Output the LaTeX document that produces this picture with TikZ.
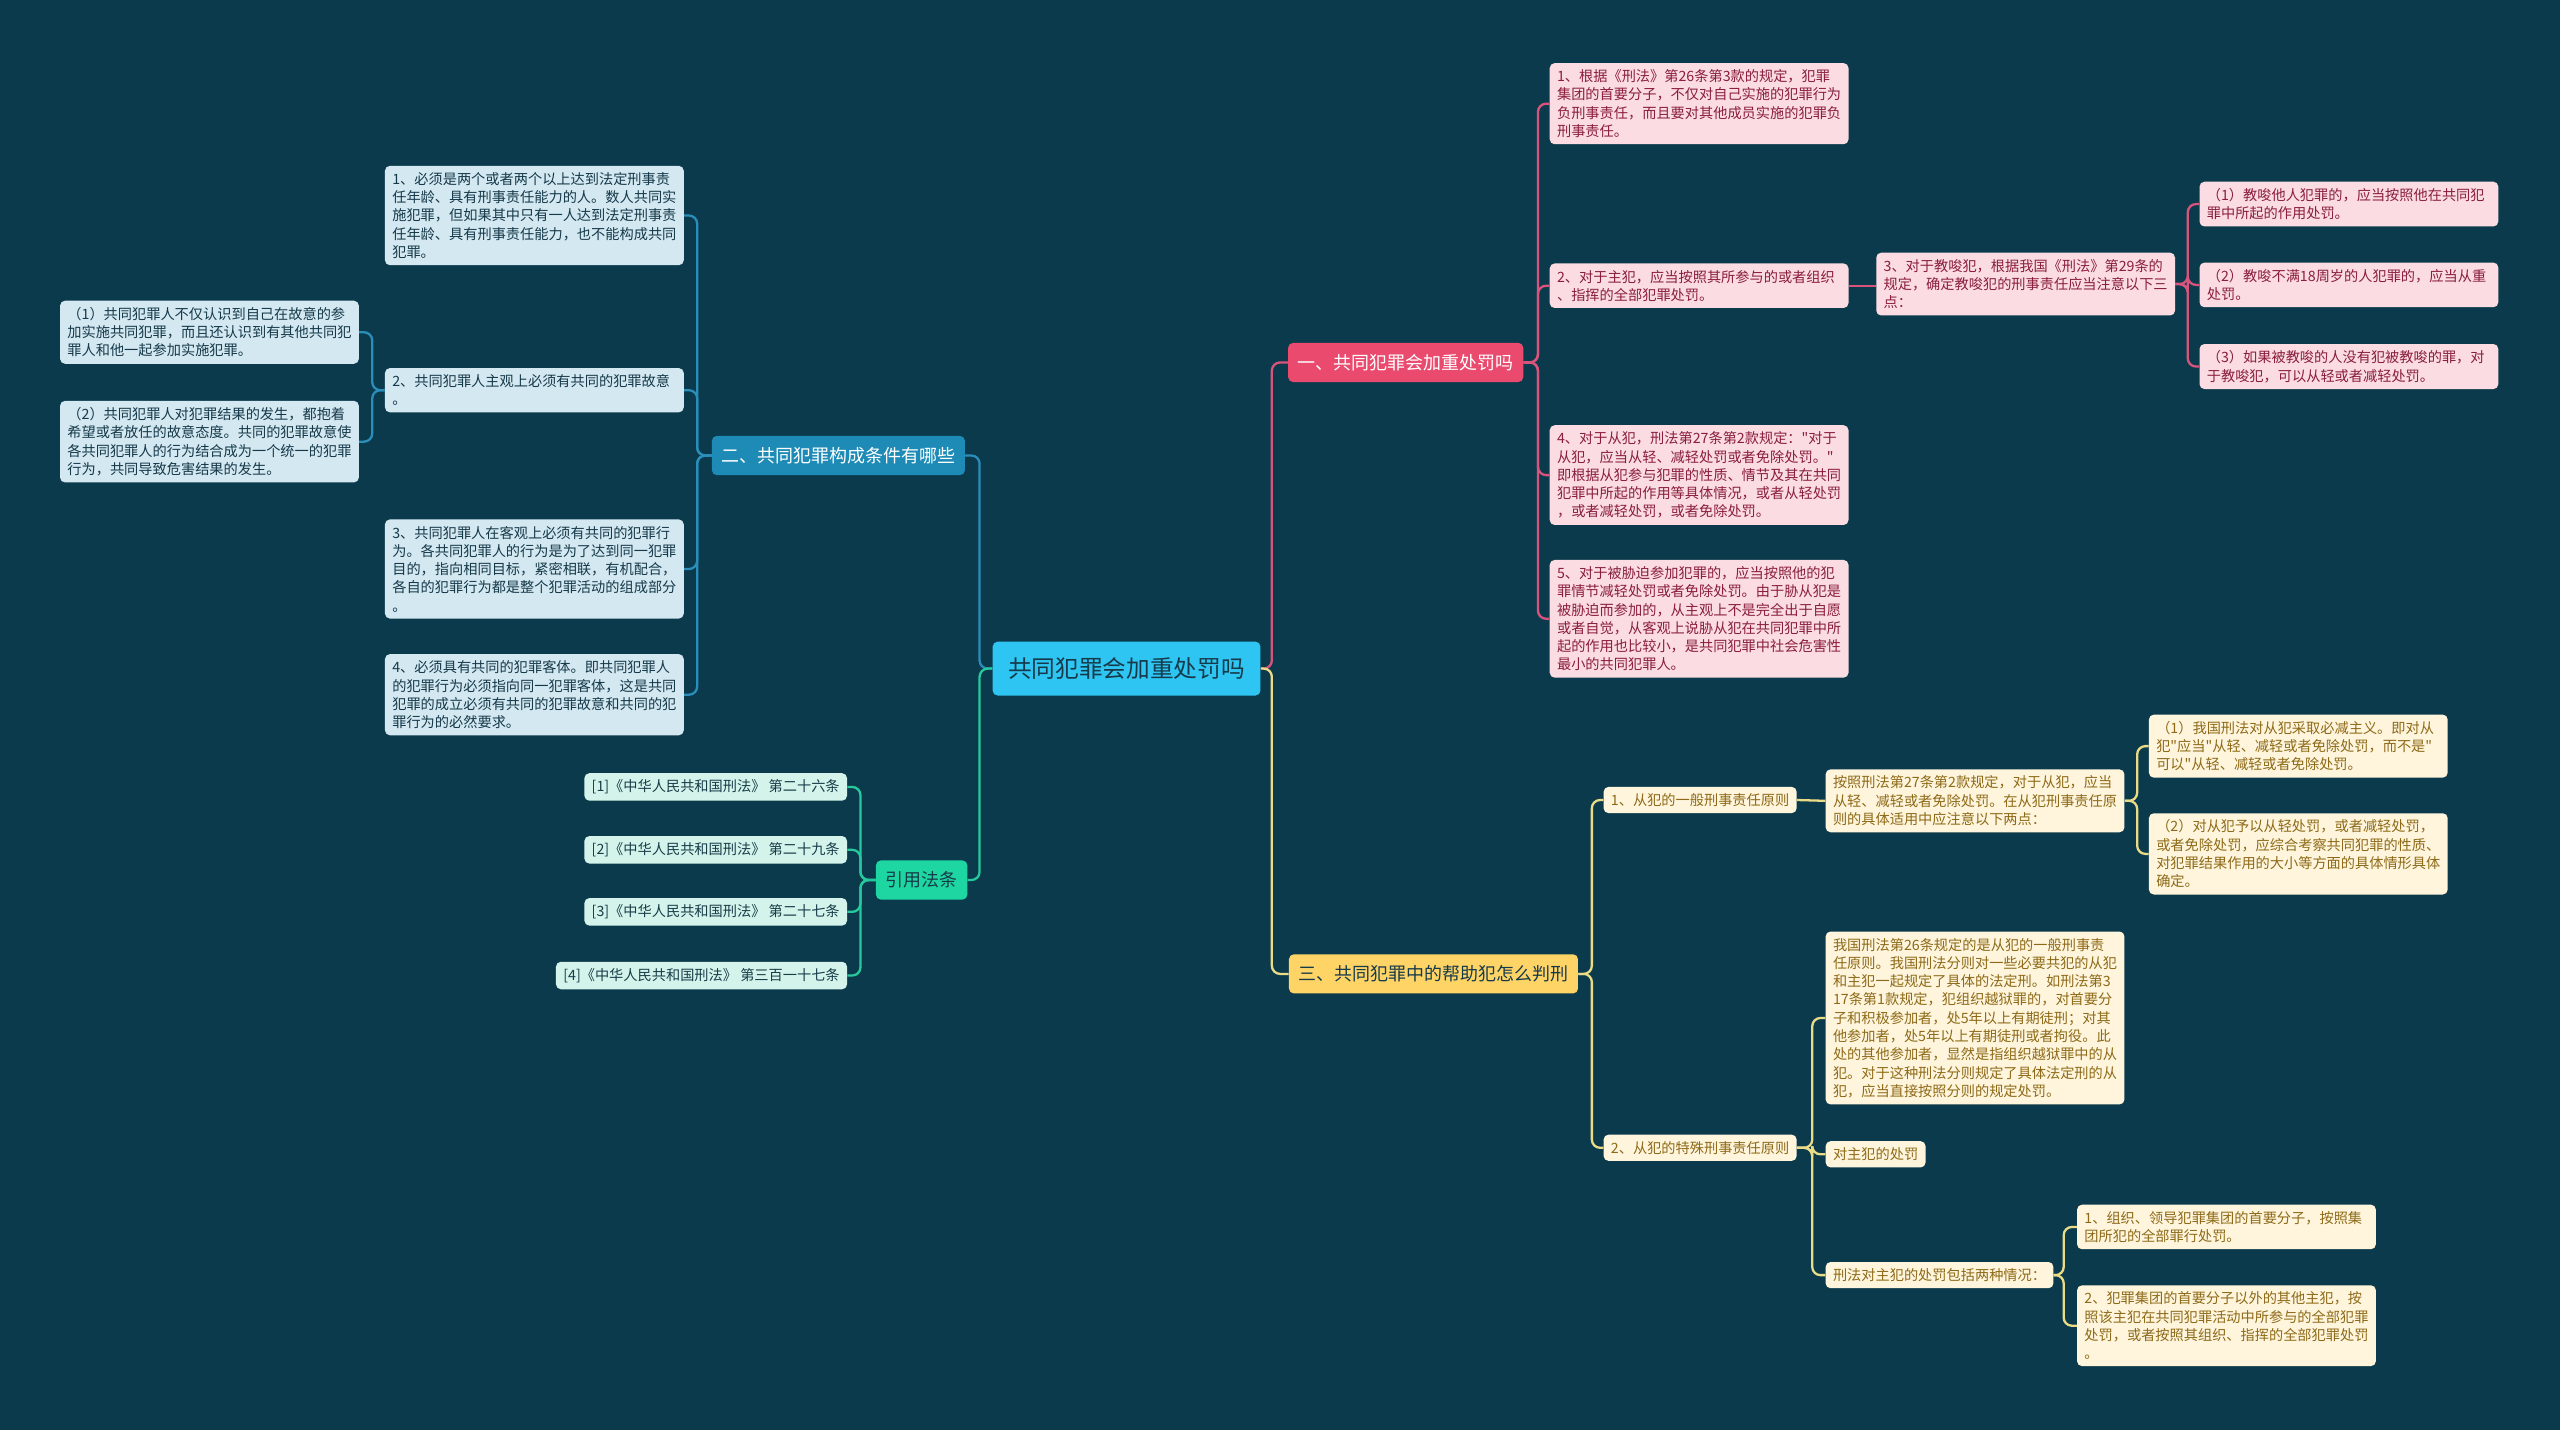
\documentclass[tikz,border=0pt]{standalone}
\usepackage{fontspec}
\newfontfamily\cjk{Noto Sans CJK SC}
\usepackage{tikz}
\usetikzlibrary{calc}

\definecolor{bgteal}{HTML}{0B3A4C}
\definecolor{rootfill}{HTML}{2EC5F2}
\definecolor{roottext}{HTML}{163A4A}
\definecolor{redfill}{HTML}{EA4A6E}
\definecolor{redline}{HTML}{D9547C}
\definecolor{pinkfill}{HTML}{FBDCE2}
\definecolor{pinktext}{HTML}{8A1E3C}
\definecolor{bluefill}{HTML}{1D8BB6}
\definecolor{blueline}{HTML}{2A8DBA}
\definecolor{icefill}{HTML}{D3E8F0}
\definecolor{icetext}{HTML}{16394A}
\definecolor{greenfill}{HTML}{1ED6A2}
\definecolor{greenline}{HTML}{26C99C}
\definecolor{mintfill}{HTML}{D4F4EB}
\definecolor{minttext}{HTML}{173C48}
\definecolor{goldfill}{HTML}{FFD466}
\definecolor{goldline}{HTML}{EADB86}
\definecolor{creamfill}{HTML}{FEF5DC}
\definecolor{creamtext}{HTML}{8E6A18}

\begin{document}
\begin{tikzpicture}[
    x=1pt, y=-1pt,
    box/.style={rectangle, rounded corners=3pt, inner xsep=4.5pt, inner ysep=4pt,
                align=left, font=\cjk\fontsize{8.7}{11.2}\selectfont},
    wide/.style={box, text width=174pt},
    rootnode/.style={rectangle, rounded corners=3pt, fill=rootfill, text=roottext,
                     minimum width=164pt, minimum height=33pt,
                     font=\cjk\fontsize{14.5}{16}\selectfont},
    topic/.style={rectangle, rounded corners=3pt, inner xsep=6pt,
                  minimum height=24pt, font=\cjk\fontsize{11}{13}\selectfont},
    pinkbox/.style={fill=pinkfill, text=pinktext},
    icebox/.style={fill=icefill, text=icetext},
    mintbox/.style={fill=mintfill, text=minttext},
    creambox/.style={fill=creamfill, text=creamtext},
    link/.style={line width=1.4pt, rounded corners=5pt},
    redlink/.style={link, redline},
    bluelink/.style={link, blueline},
    greenlink/.style={link, greenline},
    goldlink/.style={link, goldline}
]
\fill[bgteal] (0,0) rectangle (1568,876);
\useasboundingbox (0,0) rectangle (1568,876);

% Centre and main topics
\node[rootnode] (root) at (690,409.5) {共同犯罪会加重处罚吗};
\node[topic, fill=redfill, text=white] (t1) at (861,222) {一、共同犯罪会加重处罚吗};
\node[topic, fill=bluefill, text=white] (t2) at (513.5,279) {二、共同犯罪构成条件有哪些};
\node[topic, fill=goldfill, text=roottext] (t3) at (878,596.5) {三、共同犯罪中的帮助犯怎么判刑};
\node[topic, fill=greenfill, text=minttext] (tc) at (564.5,539) {引用法条};

% Junction columns
\coordinate (jr) at (779,0);
\coordinate (jl) at (600,0);
\coordinate (j1) at (942,0);
\coordinate (j13) at (1340,0);
\coordinate (j2) at (427,0);
\coordinate (j22) at (228,0);
\coordinate (jc) at (527,0);
\coordinate (j3) at (975,0);
\coordinate (jy1) at (1309,0);
\coordinate (jy2) at (1110,0);
\coordinate (jy2c) at (1264,0);

% Topic one
\node[wide, pinkbox, anchor=west] (r1) at (949,63.5) {1、根据《刑法》第26条第3款的规定，犯罪\\集团的首要分子，不仅对自己实施的犯罪行为\\负刑事责任，而且要对其他成员实施的犯罪负\\刑事责任。};
\node[wide, pinkbox, anchor=west] (r2) at (949,175) {2、对于主犯，应当按照其所参与的或者组织\\、指挥的全部犯罪处罚。};
\node[wide, pinkbox, anchor=west] (r3) at (1149,174) {3、对于教唆犯，根据我国《刑法》第29条的\\规定，确定教唆犯的刑事责任应当注意以下三\\点：};
\node[wide, pinkbox, anchor=west] (r3a) at (1347,125) {（1）教唆他人犯罪的，应当按照他在共同犯\\罪中所起的作用处罚。};
\node[wide, pinkbox, anchor=west] (r3b) at (1347,174.5) {（2）教唆不满18周岁的人犯罪的，应当从重\\处罚。};
\node[wide, pinkbox, anchor=west] (r3c) at (1347,224.5) {（3）如果被教唆的人没有犯被教唆的罪，对\\于教唆犯，可以从轻或者减轻处罚。};
\node[wide, pinkbox, anchor=west] (r4) at (949,291) {4、对于从犯，刑法第27条第2款规定："对于\\从犯，应当从轻、减轻处罚或者免除处罚。"\\即根据从犯参与犯罪的性质、情节及其在共同\\犯罪中所起的作用等具体情况，或者从轻处罚\\，或者减轻处罚，或者免除处罚。};
\node[wide, pinkbox, anchor=west] (r5) at (949,379) {5、对于被胁迫参加犯罪的，应当按照他的犯\\罪情节减轻处罚或者免除处罚。由于胁从犯是\\被胁迫而参加的，从主观上不是完全出于自愿\\或者自觉，从客观上说胁从犯在共同犯罪中所\\起的作用也比较小，是共同犯罪中社会危害性\\最小的共同犯罪人。};

% Topic two
\node[wide, icebox, anchor=east] (l1) at (419,132) {1、必须是两个或者两个以上达到法定刑事责\\任年龄、具有刑事责任能力的人。数人共同实\\施犯罪，但如果其中只有一人达到法定刑事责\\任年龄、具有刑事责任能力，也不能构成共同\\犯罪。};
\node[wide, icebox, anchor=east] (l2) at (419,239) {2、共同犯罪人主观上必须有共同的犯罪故意\\。};
\node[wide, icebox, anchor=east] (l2a) at (220,203.5) {（1）共同犯罪人不仅认识到自己在故意的参\\加实施共同犯罪，而且还认识到有其他共同犯\\罪人和他一起参加实施犯罪。};
\node[wide, icebox, anchor=east] (l2b) at (220,270.5) {（2）共同犯罪人对犯罪结果的发生，都抱着\\希望或者放任的故意态度。共同的犯罪故意使\\各共同犯罪人的行为结合成为一个统一的犯罪\\行为，共同导致危害结果的发生。};
\node[wide, icebox, anchor=east] (l3) at (419,348.5) {3、共同犯罪人在客观上必须有共同的犯罪行\\为。各共同犯罪人的行为是为了达到同一犯罪\\目的，指向相同目标，紧密相联，有机配合，\\各自的犯罪行为都是整个犯罪活动的组成部分\\。};
\node[wide, icebox, anchor=east] (l4) at (419,425.5) {4、必须具有共同的犯罪客体。即共同犯罪人\\的犯罪行为必须指向同一犯罪客体，这是共同\\犯罪的成立必须有共同的犯罪故意和共同的犯\\罪行为的必然要求。};

% Cited articles
\node[box, mintbox, anchor=east] (c1) at (519,482) {[1]《中华人民共和国刑法》 第二十六条};
\node[box, mintbox, anchor=east] (c2) at (519,520.5) {[2]《中华人民共和国刑法》 第二十九条};
\node[box, mintbox, anchor=east] (c3) at (519,558.5) {[3]《中华人民共和国刑法》 第二十七条};
\node[box, mintbox, anchor=east] (c4) at (519,597.5) {[4]《中华人民共和国刑法》 第三百一十七条};

% Topic three
\node[box, creambox, anchor=west] (y1) at (982,490) {1、从犯的一般刑事责任原则};
\node[wide, creambox, anchor=west] (y1x) at (1118,490.5) {按照刑法第27条第2款规定，对于从犯，应当\\从轻、减轻或者免除处罚。在从犯刑事责任原\\则的具体适用中应注意以下两点：};
\node[wide, creambox, anchor=west] (y1a) at (1316,457) {（1）我国刑法对从犯采取必减主义。即对从\\犯"应当"从轻、减轻或者免除处罚，而不是"\\可以"从轻、减轻或者免除处罚。};
\node[wide, creambox, anchor=west] (y1b) at (1316,523) {（2）对从犯予以从轻处罚，或者减轻处罚，\\或者免除处罚，应综合考察共同犯罪的性质、\\对犯罪结果作用的大小等方面的具体情形具体\\确定。};
\node[box, creambox, anchor=west] (y2) at (982,703) {2、从犯的特殊刑事责任原则};
\node[wide, creambox, anchor=west] (y2a) at (1118,623.5) {我国刑法第26条规定的是从犯的一般刑事责\\任原则。我国刑法分则对一些必要共犯的从犯\\和主犯一起规定了具体的法定刑。如刑法第3\\17条第1款规定，犯组织越狱罪的，对首要分\\子和积极参加者，处5年以上有期徒刑；对其\\他参加者，处5年以上有期徒刑或者拘役。此\\处的其他参加者，显然是指组织越狱罪中的从\\犯。对于这种刑法分则规定了具体法定刑的从\\犯，应当直接按照分则的规定处罚。};
\node[box, creambox, anchor=west] (y2b) at (1118,707) {对主犯的处罚};
\node[box, creambox, anchor=west] (y2c) at (1118,781) {刑法对主犯的处罚包括两种情况：};
\node[wide, creambox, anchor=west] (y2c1) at (1272,751.5) {1、组织、领导犯罪集团的首要分子，按照集\\团所犯的全部罪行处罚。};
\node[wide, creambox, anchor=west] (y2c2) at (1272,812) {2、犯罪集团的首要分子以外的其他主犯，按\\照该主犯在共同犯罪活动中所参与的全部犯罪\\处罚，或者按照其组织、指挥的全部犯罪处罚\\。};

% Connectors -- right side
\draw[redlink] (root.east) -- (root.east -| jr) |- (t1.west);
\draw[goldlink] (root.east) -- (root.east -| jr) |- (t3.west);
\foreach \n in {r1,r2,r4,r5}
  \draw[redlink] (t1.east) -- (t1.east -| j1) |- (\n.west);
\draw[redlink] (r2.east) -- (r3.west |- r2.east);
\foreach \n in {r3a,r3b,r3c}
  \draw[redlink] (r3.east) -- (r3.east -| j13) |- (\n.west);
\foreach \n in {y1,y2}
  \draw[goldlink] (t3.east) -- (t3.east -| j3) |- (\n.west);
\draw[goldlink] (y1.east) -- (y1x.west);
\foreach \n in {y1a,y1b}
  \draw[goldlink] (y1x.east) -- (y1x.east -| jy1) |- (\n.west);
\foreach \n in {y2a,y2b,y2c}
  \draw[goldlink] (y2.east) -- (y2.east -| jy2) |- (\n.west);
\foreach \n in {y2c1,y2c2}
  \draw[goldlink] (y2c.east) -- (y2c.east -| jy2c) |- (\n.west);

% Connectors -- left side
\draw[bluelink] (root.west) -- (root.west -| jl) |- (t2.east);
\draw[greenlink] (root.west) -- (root.west -| jl) |- (tc.east);
\foreach \n in {l1,l2,l3,l4}
  \draw[bluelink] (t2.west) -- (t2.west -| j2) |- (\n.east);
\foreach \n in {l2a,l2b}
  \draw[bluelink] (l2.west) -- (l2.west -| j22) |- (\n.east);
\foreach \n in {c1,c2,c3,c4}
  \draw[greenlink] (tc.west) -- (tc.west -| jc) |- (\n.east);
\end{tikzpicture}
\end{document}
